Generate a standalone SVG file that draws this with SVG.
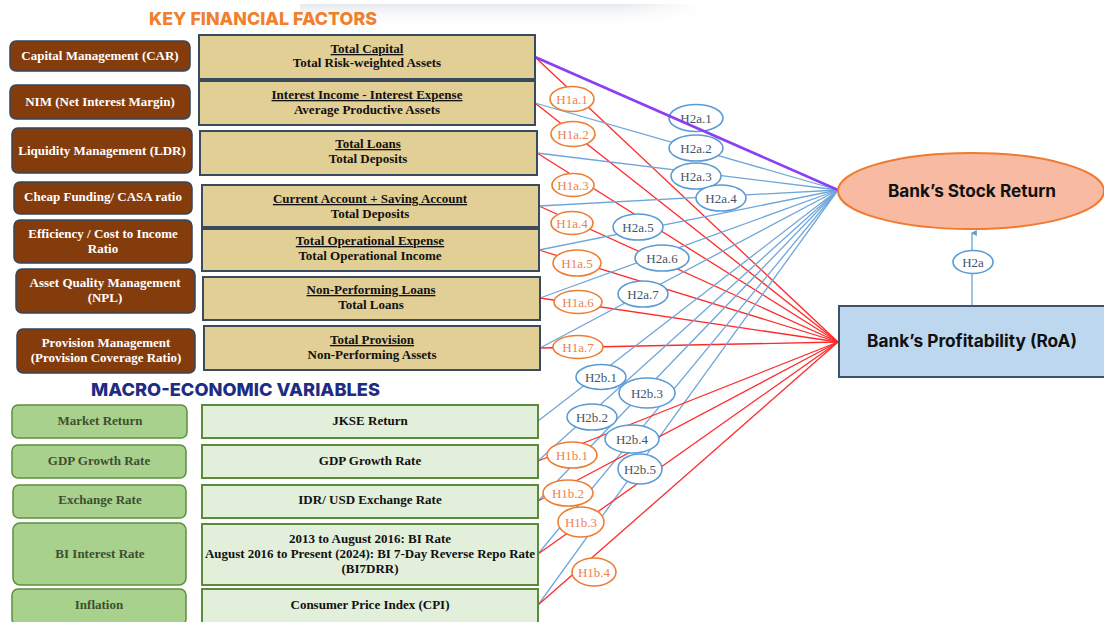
<svg xmlns="http://www.w3.org/2000/svg" width="1104" height="622" viewBox="0 0 1104 622">
  <defs>
    <linearGradient id="bandV" x1="0" y1="0" x2="0" y2="1">
      <stop offset="0" stop-color="#e3e6ea" stop-opacity="0.9"/>
      <stop offset="1" stop-color="#ffffff" stop-opacity="0"/>
    </linearGradient>
    <linearGradient id="bandH" x1="0" y1="0" x2="1" y2="0">
      <stop offset="0" stop-color="#fff" stop-opacity="1"/>
      <stop offset="0.8" stop-color="#fff" stop-opacity="1"/>
      <stop offset="1" stop-color="#fff" stop-opacity="0"/>
    </linearGradient>
    <mask id="bandMask">
      <rect x="300" y="4" width="400" height="24" fill="url(#bandH)"/>
    </mask>
    <marker id="arrowUp" viewBox="0 0 10 10" refX="5" refY="2" markerWidth="6" markerHeight="6" orient="auto-start-reverse" markerUnits="userSpaceOnUse">
      <path d="M0,10 L5,0 L10,10 Z" fill="#5B9BD5"/>
    </marker>
    <style>
      .title { font-family: Inter, "Noto Sans", sans-serif; font-weight: 800; font-size: 18px; }
      .brown { fill: #843C0C; stroke: #34465C; stroke-width: 1.5; }
      .brownTxt { font-family: "Liberation Serif", serif; font-weight: 700; font-size: 13px; fill: #ffffff; text-anchor: middle; }
      .tan { fill: #E2CF96; stroke: #3A4B5E; stroke-width: 2; }
      .formula { font-family: "Liberation Serif", serif; font-weight: 700; font-size: 13px; fill: #111; text-anchor: middle; }
      .num { text-decoration: underline; }
      .gLabel { fill: #A9D18E; stroke: #5E8F3E; stroke-width: 1.5; }
      .gLabelTxt { font-family: "Liberation Serif", serif; font-weight: 700; font-size: 13px; fill: #3E4F2E; text-anchor: middle; }
      .gBox { fill: #E2EFDA; stroke: #5A8A3A; stroke-width: 2; }
      .red { stroke: #FF2A2A; stroke-width: 1.3; fill: none; }
      .blue { stroke: #6FA6DA; stroke-width: 1.3; fill: none; }
      .purple { stroke: #8A3FF5; stroke-width: 2.6; fill: none; }
      .h1 { fill: #ffffff; stroke: #ED7D31; stroke-width: 1.6; }
      .h1Txt { font-family: "Liberation Serif", serif; font-size: 13px; fill: #EE8150; text-anchor: middle; }
      .h2 { fill: #ffffff; stroke: #5B9BD5; stroke-width: 1.6; }
      .h2Txt { font-family: "Liberation Serif", serif; font-size: 13px; fill: #44546A; text-anchor: middle; }
      .target { font-family: Inter, "Noto Sans", sans-serif; font-weight: 700; font-size: 17px; fill: #111; text-anchor: middle; }
    </style>
  </defs>

  <rect width="1104" height="622" fill="#ffffff"/>
  <!-- faint header band -->
  <rect x="300" y="4" width="400" height="24" fill="url(#bandV)" mask="url(#bandMask)"/>

  <!-- section headings -->
  <text class="title" x="149" y="25" fill="#F07F2E" textLength="228" lengthAdjust="spacingAndGlyphs">KEY FINANCIAL FACTORS</text>
  <text class="title" x="91" y="396" fill="#1E2C82" textLength="289" lengthAdjust="spacingAndGlyphs">MACRO-ECONOMIC VARIABLES</text>

  <!-- connectors -->
  <g id="connectors">
    <!-- financial ratios to profitability -->
    <line class="red" x1="535" y1="57" x2="838" y2="342"/>
    <line class="red" x1="535" y1="103" x2="838" y2="342"/>
    <line class="red" x1="537" y1="153" x2="838" y2="342"/>
    <line class="red" x1="539" y1="206" x2="838" y2="342"/>
    <line class="red" x1="539" y1="250" x2="838" y2="342"/>
    <line class="red" x1="540" y1="298" x2="838" y2="342"/>
    <line class="red" x1="540" y1="348" x2="838" y2="342"/>
    <!-- financial ratios to stock return -->
    <line class="blue" x1="535" y1="103" x2="838" y2="190"/>
    <line class="blue" x1="537" y1="153" x2="838" y2="190"/>
    <line class="blue" x1="539" y1="206" x2="838" y2="190"/>
    <line class="blue" x1="539" y1="250" x2="838" y2="190"/>
    <line class="blue" x1="540" y1="298" x2="838" y2="190"/>
    <line class="blue" x1="540" y1="348" x2="838" y2="190"/>
    <!-- macro variables to stock return -->
    <line class="blue" x1="538" y1="421" x2="838" y2="190"/>
    <line class="blue" x1="538" y1="461" x2="838" y2="190"/>
    <line class="blue" x1="538" y1="501" x2="838" y2="190"/>
    <line class="blue" x1="538" y1="554" x2="838" y2="190"/>
    <line class="blue" x1="538" y1="605" x2="838" y2="190"/>
    <!-- macro variables to profitability -->
    <line class="red" x1="538" y1="461" x2="838" y2="342"/>
    <line class="red" x1="538" y1="501" x2="838" y2="342"/>
    <line class="red" x1="538" y1="554" x2="838" y2="342"/>
    <line class="red" x1="538" y1="605" x2="838" y2="342"/>
    <!-- profitability to stock return -->
    <line x1="972" y1="306" x2="972" y2="233" stroke="#5B9BD5" stroke-width="1.2" marker-end="url(#arrowUp)"/>
  </g>

  <!-- hypothesis labels -->
  <g id="hyp-h1a">
    <ellipse class="h1" cx="572" cy="99" rx="22" ry="12.5"/><text class="h1Txt" x="572" y="104">H1a.1</text>
    <ellipse class="h1" cx="573" cy="134" rx="22" ry="12.5"/><text class="h1Txt" x="573" y="139">H1a.2</text>
    <ellipse class="h1" cx="573" cy="185" rx="21" ry="11.5"/><text class="h1Txt" x="573" y="190">H1a.3</text>
    <ellipse class="h1" cx="572" cy="223" rx="21" ry="11.5"/><text class="h1Txt" x="572" y="228">H1a.4</text>
    <ellipse class="h1" cx="577" cy="263" rx="24" ry="13"/><text class="h1Txt" x="577" y="268">H1a.5</text>
    <ellipse class="h1" cx="578" cy="302" rx="24" ry="11.5"/><text class="h1Txt" x="578" y="307">H1a.6</text>
    <ellipse class="h1" cx="578" cy="347" rx="25" ry="11.5"/><text class="h1Txt" x="578" y="352">H1a.7</text>
  </g>
  <g id="hyp-h2a">
    <ellipse class="h2" cx="696" cy="118" rx="27" ry="13.5"/><text class="h2Txt" x="696" y="123">H2a.1</text>
    <ellipse class="h2" cx="696" cy="148" rx="27" ry="13"/><text class="h2Txt" x="696" y="153">H2a.2</text>
    <ellipse class="h2" cx="696" cy="176" rx="25" ry="13"/><text class="h2Txt" x="696" y="181">H2a.3</text>
    <ellipse class="h2" cx="721" cy="198" rx="25" ry="13"/><text class="h2Txt" x="721" y="203">H2a.4</text>
    <ellipse class="h2" cx="638" cy="227" rx="25" ry="13"/><text class="h2Txt" x="638" y="232">H2a.5</text>
    <ellipse class="h2" cx="662" cy="258" rx="27" ry="13"/><text class="h2Txt" x="662" y="263">H2a.6</text>
    <ellipse class="h2" cx="643" cy="294" rx="25" ry="13"/><text class="h2Txt" x="643" y="299">H2a.7</text>
  </g>
  <g id="hyp-h2b">
    <ellipse class="h2" cx="601" cy="377" rx="25" ry="12.5"/><text class="h2Txt" x="601" y="382">H2b.1</text>
    <ellipse class="h2" cx="592" cy="417" rx="25" ry="13"/><text class="h2Txt" x="592" y="422">H2b.2</text>
    <ellipse class="h2" cx="647" cy="393" rx="28" ry="15"/><text class="h2Txt" x="647" y="398">H2b.3</text>
    <ellipse class="h2" cx="632" cy="439" rx="27" ry="14"/><text class="h2Txt" x="632" y="444">H2b.4</text>
    <ellipse class="h2" cx="640" cy="469" rx="22" ry="15"/><text class="h2Txt" x="640" y="474">H2b.5</text>
  </g>
  <g id="hyp-h1b">
    <ellipse class="h1" cx="572" cy="455" rx="25" ry="13"/><text class="h1Txt" x="572" y="460">H1b.1</text>
    <ellipse class="h1" cx="568" cy="493" rx="25" ry="13"/><text class="h1Txt" x="568" y="498">H1b.2</text>
    <ellipse class="h1" cx="581" cy="522" rx="23" ry="15"/><text class="h1Txt" x="581" y="527">H1b.3</text>
    <ellipse class="h1" cx="594" cy="572" rx="22" ry="14"/><text class="h1Txt" x="594" y="577">H1b.4</text>
  </g>

  <!-- capital adequacy path drawn above its label -->
  <line class="purple" x1="535" y1="57" x2="838" y2="190"/>

  <!-- key financial factors -->
  <g id="car">
    <rect class="brown" x="10" y="41" width="180" height="30" rx="6"/>
    <text class="brownTxt" x="100" y="60">Capital Management (CAR)</text>
    <rect class="tan" x="199" y="35" width="336" height="44"/>
    <text class="formula" x="367" y="53"><tspan class="num">Total Capital</tspan></text>
    <text class="formula" x="367" y="67">Total Risk-weighted Assets</text>
  </g>
  <g id="nim">
    <rect class="brown" x="10" y="85" width="180" height="34" rx="6"/>
    <text class="brownTxt" x="100" y="106">NIM (Net Interest Margin)</text>
    <rect class="tan" x="199" y="81" width="336" height="44"/>
    <text class="formula" x="367" y="99"><tspan class="num">Interest Income - Interest Expense</tspan></text>
    <text class="formula" x="367" y="114">Average Productive Assets</text>
  </g>
  <g id="ldr">
    <rect class="brown" x="12" y="128" width="180" height="45" rx="6"/>
    <text class="brownTxt" x="102" y="155">Liquidity Management (LDR)</text>
    <rect class="tan" x="200" y="131" width="337" height="44"/>
    <text class="formula" x="368" y="148"><tspan class="num">Total Loans</tspan></text>
    <text class="formula" x="368" y="163">Total Deposits</text>
  </g>
  <g id="casa">
    <rect class="brown" x="14" y="182" width="178" height="32" rx="6"/>
    <text class="brownTxt" x="103" y="201">Cheap Funding/ CASA ratio</text>
    <rect class="tan" x="202" y="185" width="337" height="42"/>
    <text class="formula" x="370" y="203"><tspan class="num">Current Account + Saving Account</tspan></text>
    <text class="formula" x="370" y="218">Total Deposits</text>
  </g>
  <g id="cir">
    <rect class="brown" x="14" y="220" width="178" height="43" rx="6"/>
    <text class="brownTxt" x="103" y="238">Efficiency / Cost to Income</text>
    <text class="brownTxt" x="103" y="253">Ratio</text>
    <rect class="tan" x="202" y="229" width="337" height="42"/>
    <text class="formula" x="370" y="245"><tspan class="num">Total Operational Expense</tspan></text>
    <text class="formula" x="370" y="260">Total Operational Income</text>
  </g>
  <g id="npl">
    <rect class="brown" x="16" y="269" width="179" height="44" rx="6"/>
    <text class="brownTxt" x="105" y="287">Asset Quality Management</text>
    <text class="brownTxt" x="105" y="302">(NPL)</text>
    <rect class="tan" x="203" y="277" width="337" height="43"/>
    <text class="formula" x="371" y="294"><tspan class="num">Non-Performing Loans</tspan></text>
    <text class="formula" x="371" y="309">Total Loans</text>
  </g>
  <g id="pcr">
    <rect class="brown" x="17" y="329" width="178" height="44" rx="6"/>
    <text class="brownTxt" x="106" y="347">Provision Management</text>
    <text class="brownTxt" x="106" y="362">(Provision Coverage Ratio)</text>
    <rect class="tan" x="204" y="326" width="336" height="44"/>
    <text class="formula" x="372" y="344"><tspan class="num">Total Provision</tspan></text>
    <text class="formula" x="372" y="359">Non-Performing Assets</text>
  </g>

  <!-- macro-economic variables -->
  <g id="market">
    <rect class="gLabel" x="12" y="405" width="175" height="33" rx="6"/>
    <text class="gLabelTxt" x="100" y="425">Market Return</text>
    <rect class="gBox" x="202" y="405" width="336" height="33"/>
    <text class="formula" x="370" y="425">JKSE Return</text>
  </g>
  <g id="gdp">
    <rect class="gLabel" x="12" y="445" width="174" height="33" rx="6"/>
    <text class="gLabelTxt" x="99" y="465">GDP Growth Rate</text>
    <rect class="gBox" x="202" y="445" width="336" height="33"/>
    <text class="formula" x="370" y="465">GDP Growth Rate</text>
  </g>
  <g id="fx">
    <rect class="gLabel" x="13" y="485" width="173" height="33" rx="6"/>
    <text class="gLabelTxt" x="100" y="504">Exchange Rate</text>
    <rect class="gBox" x="202" y="485" width="336" height="33"/>
    <text class="formula" x="370" y="504">IDR/ USD Exchange Rate</text>
  </g>
  <g id="bi-rate">
    <rect class="gLabel" x="13" y="523" width="173" height="62" rx="7"/>
    <text class="gLabelTxt" x="100" y="558">BI Interest Rate</text>
    <rect class="gBox" x="202" y="524" width="336" height="61"/>
    <text class="formula" x="370" y="543">2013 to August 2016: BI Rate</text>
    <text class="formula" x="370" y="558" textLength="330" lengthAdjust="spacingAndGlyphs">August 2016 to Present (2024): BI 7-Day Reverse Repo Rate</text>
    <text class="formula" x="370" y="573">(BI7DRR)</text>
  </g>
  <g id="inflation">
    <rect class="gLabel" x="12" y="589" width="174" height="36" rx="6"/>
    <text class="gLabelTxt" x="99" y="609">Inflation</text>
    <rect class="gBox" x="202" y="589" width="336" height="36"/>
    <text class="formula" x="370" y="609">Consumer Price Index (CPI)</text>
  </g>

  <!-- outcomes -->
  <g id="stock-return">
    <ellipse cx="971" cy="191" rx="133" ry="38" fill="#F8BAA3" stroke="#F07A2E" stroke-width="2"/>
    <text class="target" x="972" y="197" textLength="168" lengthAdjust="spacingAndGlyphs">Bank’s Stock Return</text>
  </g>
  <g id="h2a-label">
    <ellipse class="h2" cx="973" cy="262" rx="20" ry="11.5" stroke-width="1.3"/>
    <text class="h2Txt" x="973" y="267">H2a</text>
  </g>
  <g id="profitability">
    <rect x="839" y="306" width="266" height="71" fill="#BDD7EE" stroke="#3F5269" stroke-width="2"/>
    <text class="target" x="972" y="347" textLength="210" lengthAdjust="spacingAndGlyphs">Bank’s Profitability (RoA)</text>
  </g>
</svg>
